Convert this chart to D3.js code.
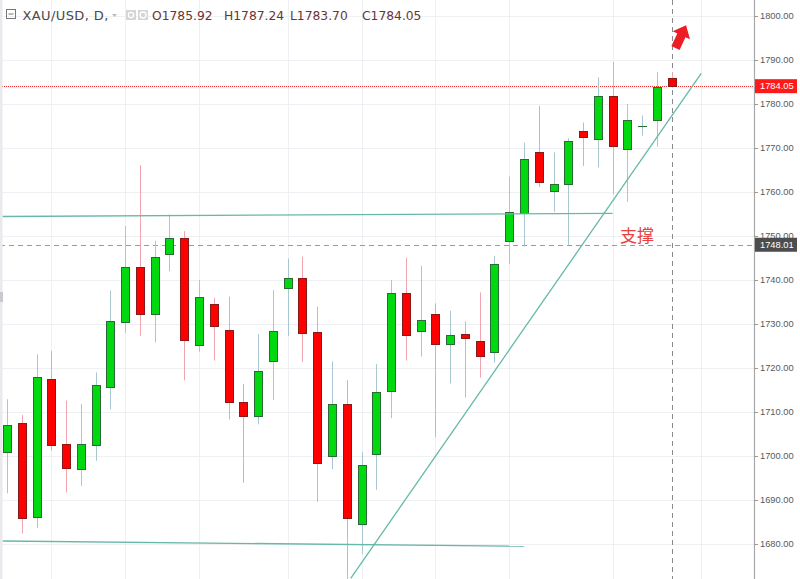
<!DOCTYPE html>
<html>
<head>
<meta charset="utf-8">
<script src="https://cdn.jsdelivr.net/npm/d3@7"></script>
<style>
  html, body { margin: 0; padding: 0; background: #fff; }
  svg { display: block; }
</style>
</head>
<body>
<svg id="chart" width="800" height="579"></svg>
<script>
// ---------- data ----------
const opens  = [1700.8,1707.4,1686.1,1717.4,1702.7,1697.0,1702.4,1715.6,1730.5,1743.0,
                1732.2,1745.8,1749.6,1725.2,1734.5,1728.7,1712.3,1709.0,1721.7,1738.1,
                1740.4,1728.1,1699.9,1711.8,1684.5,1700.5,1714.7,1737.0,1728.3,1732.3,
                1725.5,1727.7,1726.2,1723.6,1748.8,1755.2,1769.1,1760.3,1761.8,1773.9,
                1772.0,1781.8,1769.7,1774.9,1776.3,1785.92];
const highs  = [1712.9,1709.3,1723.1,1723.9,1712.6,1711.8,1719.0,1737.6,1752.3,1766.1,
                1748.9,1754.9,1751.1,1740.0,1736.0,1736.2,1716.4,1727.7,1737.7,1744.9,
                1745.3,1733.9,1721.5,1717.3,1700.9,1720.9,1740.0,1745.1,1743.2,1734.7,
                1733.0,1730.6,1737.2,1745.5,1763.5,1771.2,1779.6,1769.0,1772.2,1775.8,
                1786.1,1789.6,1780.0,1777.4,1787.3,1787.24];
const lows   = [1691.5,1682.4,1683.6,1701.2,1691.7,1693.2,1698.9,1710.6,1728.0,1727.3,
                1725.8,1742.0,1717.2,1723.7,1721.7,1708.3,1693.9,1707.2,1712.7,1727.3,
                1721.4,1689.6,1697.0,1672.0,1677.7,1692.3,1708.6,1721.7,1722.6,1704.3,
                1716.5,1713.3,1717.8,1721.2,1743.6,1747.6,1761.1,1755.5,1748.0,1765.9,
                1765.6,1759.5,1757.8,1772.8,1770.3,1783.70];
const closes = [1707.0,1685.8,1718.0,1702.5,1697.3,1702.7,1716.1,1730.7,1743.0,1732.2,
                1745.2,1749.6,1726.4,1736.1,1729.5,1712.3,1709.2,1719.4,1728.3,1740.4,
                1727.9,1698.5,1711.8,1685.8,1697.9,1714.5,1737.1,1727.5,1730.9,1725.5,
                1727.4,1726.9,1722.8,1743.6,1755.4,1767.6,1762.3,1761.9,1771.6,1772.4,
                1781.8,1770.5,1776.3,1775.0,1783.9,1784.05];

const yTicks = [1680,1690,1700,1710,1720,1730,1740,1750,1760,1770,1780,1790,1800];
const weekGridIdx = [3, 8, 13, 19, 24, 29, 34, 41, 47];

const symbolTitle = "XAU/USD, D,";
const ohlcLabels = ["O", "H", "L", "C"];
const ohlcValues = ["1785.92", "1787.24", "1783.70", "1784.05"];

const lastPrice = 1784.05;
const crossPrice = 1748.01;
const crossIdx = 45;

// trend lines: [idx, price] endpoints
const trendLines = [
  [[-0.3, 1754.43], [41.0, 1755.16]],
  [[-0.3, 1680.68], [35.0, 1679.5]],
  [[23.27, 1672.2], [47.0, 1786.98]]
];
const supportText = "支撑";
const supportPos = [41.5, 1748.6];
const arrowPos = [45.6, 1795.2];

// ---------- layout ----------
const W = 800, H = 579;
const plotRight = 754;

const x = d3.scaleLinear().domain([0, 45]).range([7, 671.7]);
const y = d3.scaleLinear().domain([1680, 1800]).range([544, 16]);

const svg = d3.select("#chart");

svg.append("defs").append("clipPath").attr("id", "plotclip")
  .append("rect").attr("x", 0).attr("y", 0).attr("width", plotRight).attr("height", H);

const plot = svg.append("g").attr("clip-path", "url(#plotclip)");

// grid
plot.append("g").selectAll("line").data(yTicks).join("line")
  .attr("x1", 0).attr("x2", plotRight)
  .attr("y1", d => Math.round(y(d)) + 0.5).attr("y2", d => Math.round(y(d)) + 0.5)
  .attr("stroke", "#eef0f3").attr("stroke-width", 1);
plot.append("g").selectAll("line").data(weekGridIdx).join("line")
  .attr("x1", d => Math.round(x(d)) + 0.5).attr("x2", d => Math.round(x(d)) + 0.5)
  .attr("y1", 0).attr("y2", H)
  .attr("stroke", "#eef0f3").attr("stroke-width", 1);

// left border strip
svg.append("rect").attr("x", 0).attr("y", 0).attr("width", 2.5).attr("height", H).attr("fill", "#e9eaee");
svg.append("rect").attr("x", 0).attr("y", 292).attr("width", 3).attr("height", 10).attr("fill", "#c9cace");

// crosshair + price lines
plot.append("line")
  .attr("x1", 0).attr("x2", plotRight)
  .attr("y1", Math.round(y(crossPrice)) + 0.5).attr("y2", Math.round(y(crossPrice)) + 0.5)
  .attr("stroke", "#9a9a9a").attr("stroke-dasharray", "5,4");
plot.append("line")
  .attr("x1", Math.round(x(crossIdx)) + 0.5).attr("x2", Math.round(x(crossIdx)) + 0.5)
  .attr("y1", 0).attr("y2", H)
  .attr("stroke", "#8a8a8a").attr("stroke-dasharray", "5,4");
plot.append("line")
  .attr("x1", 0).attr("x2", plotRight)
  .attr("y1", Math.round(y(lastPrice)) + 0.5).attr("y2", Math.round(y(lastPrice)) + 0.5)
  .attr("stroke", "#f03030").attr("stroke-dasharray", "1,1");

// candles
const candles = opens.map((o, i) => ({ i, o, h: highs[i], l: lows[i], c: closes[i], up: closes[i] >= o }));
const cg = plot.append("g");
cg.selectAll("line.wick").data(candles).join("line").attr("class", "wick")
  .attr("x1", d => Math.round(x(d.i)) + 0.5).attr("x2", d => Math.round(x(d.i)) + 0.5)
  .attr("y1", d => y(d.h)).attr("y2", d => y(d.l))
  .attr("stroke", d => d.up ? "#a9c7d0" : "#f2a5ae").attr("stroke-width", 1);
cg.selectAll("rect.body").data(candles).join("rect").attr("class", "body")
  .attr("x", d => Math.round(x(d.i)) - 4 + 0.5)
  .attr("width", 8)
  .attr("y", d => Math.round(y(Math.max(d.o, d.c))) + 0.5)
  .attr("height", d => Math.max(0.01, Math.round(y(Math.min(d.o, d.c))) - Math.round(y(Math.max(d.o, d.c)))))
  .attr("fill", d => d.up ? "#00d90f" : "#ff0000")
  .attr("stroke", d => d.up ? "#2a6a36" : "#8a1a1a").attr("stroke-width", 1);

// trend lines
plot.append("g").selectAll("line").data(trendLines).join("line")
  .attr("x1", d => x(d[0][0])).attr("y1", d => y(d[0][1]))
  .attr("x2", d => x(d[1][0])).attr("y2", d => y(d[1][1]))
  .attr("stroke", "#66b8a8").attr("stroke-width", 1.3);

// support text
plot.append("text")
  .attr("x", x(supportPos[0])).attr("y", y(supportPos[1]))
  .attr("font-family", "'Noto Sans CJK SC', sans-serif").attr("font-size", 17)
  .attr("fill", "#e8413e").text(supportText);

// arrow
plot.append("path")
  .attr("d", "M0,-13 L9.5,-2 L4.5,-2 L4.5,12 L-4.5,12 L-4.5,-2 L-9.5,-2 Z")
  .attr("transform", `translate(${x(arrowPos[0])},${y(arrowPos[1])}) rotate(25)`)
  .attr("fill", "#ee1c25");

// right axis
const ax = svg.append("g");
ax.append("line").attr("x1", plotRight + 0.5).attr("x2", plotRight + 0.5).attr("y1", 0).attr("y2", H)
  .attr("stroke", "#a8a8a8").attr("stroke-width", 1.2);
ax.selectAll("line.tick").data(yTicks).join("line").attr("class", "tick")
  .attr("x1", plotRight).attr("x2", plotRight + 4)
  .attr("y1", d => Math.round(y(d)) + 0.5).attr("y2", d => Math.round(y(d)) + 0.5)
  .attr("stroke", "#9a9a9a");
ax.selectAll("text").data(yTicks).join("text")
  .attr("x", 760).attr("y", d => y(d)).attr("dy", "0.35em")
  .attr("font-family", "'Liberation Sans', Arial, sans-serif").attr("font-size", 9.3)
  .attr("fill", "#555a62").text(d => d3.format(".2f")(d));

function priceBox(v, fill) {
  const cy = y(v);
  ax.append("rect").attr("x", 755).attr("y", cy - 7).attr("width", 42).attr("height", 14).attr("fill", fill);
  ax.append("text").attr("x", 760).attr("y", cy).attr("dy", "0.35em")
    .attr("font-family", "'Liberation Sans', Arial, sans-serif").attr("font-size", 9.3)
    .attr("fill", "#fff").text(d3.format(".2f")(v));
}
priceBox(lastPrice, "#ff1a1a");
priceBox(crossPrice, "#4d4d4d");

// header
const hd = svg.append("g");
hd.append("rect").attr("x", 6.5).attr("y", 9.5).attr("width", 9).attr("height", 9)
  .attr("fill", "none").attr("stroke", "#777").attr("stroke-width", 1);
hd.append("line").attr("x1", 8.5).attr("x2", 13.5).attr("y1", 14).attr("y2", 14).attr("stroke", "#777");
hd.append("text").attr("x", 22.5).attr("y", 19.5)
  .attr("font-family", "'DejaVu Sans', sans-serif").attr("font-size", 13)
  .attr("letter-spacing", 0.4)
  .attr("fill", "#4a4a4a").text(symbolTitle);
hd.append("path").attr("d", "M112,14 L117,14 L114.5,17 Z").attr("fill", "#bdbdbd");
[126, 138].forEach((px, k) => {
  hd.append("rect").attr("x", px).attr("y", 10).attr("width", 10).attr("height", 10).attr("fill", "#d6d6d6");
  hd.append("circle").attr("cx", px + 5).attr("cy", 15).attr("r", k === 0 ? 2.6 : 3)
    .attr("fill", "none").attr("stroke", "#fff").attr("stroke-width", 1.3);
});
const ohlcX = [152, 224, 290, 362];
ohlcLabels.forEach((lab, k) => {
  const t = hd.append("text").attr("x", ohlcX[k]).attr("y", 19.5)
    .attr("font-family", "'DejaVu Sans', sans-serif").attr("font-size", 12.3).attr("fill", "#6b3434");
  t.append("tspan").text(lab);
  t.append("tspan").text(ohlcValues[k]);
});
</script>
</body>
</html>
